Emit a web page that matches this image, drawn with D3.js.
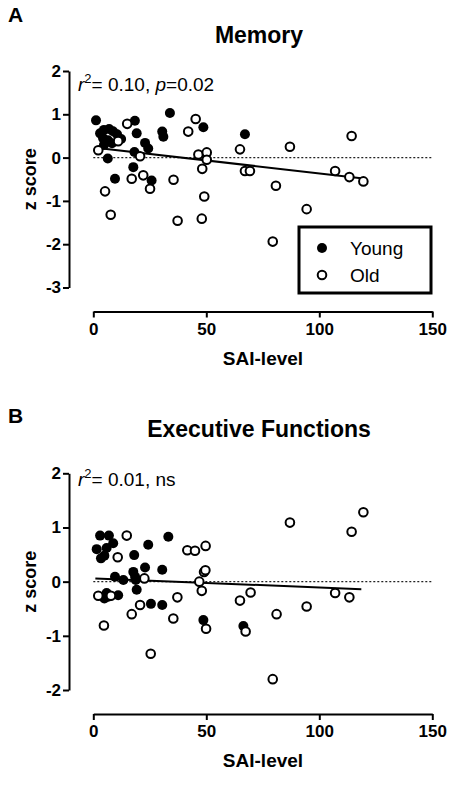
<!DOCTYPE html>
<html>
<head>
<meta charset="utf-8">
<script src="https://cdn.jsdelivr.net/npm/d3@7"></script>
<style>
  html, body { margin: 0; padding: 0; background: #fff; }
  svg { display: block; }
  text { font-family: "Liberation Sans", Arial, Helvetica, sans-serif; fill: #000; }
</style>
</head>
<body>
<svg id="chart" width="475" height="785"></svg>
<script>
// ---------- data ----------
const xTicks = [0, 50, 100, 150];
const memYTicks = [-3, -2, -1, 0, 1, 2];
const efYTicks = [-2, -1, 0, 1, 2];
const legendLabels = ["Young", "Old"];

// Panel A — Memory
const memYoungX = [1.2, 3, 4.7, 7, 8.7, 10.5, 4.3, 6.5, 8.3, 12.3, 4.7, 18.4, 19.2, 22.9, 24.3, 30.5, 31, 33.9, 18.2, 17.7, 6.4, 9.6, 25.8, 48.7, 67.1];
const memYoungY = [0.86, 0.56, 0.64, 0.66, 0.61, 0.54, 0.45, 0.40, 0.33, 0.43, 0.29, 0.85, 0.56, 0.34, 0.21, 0.60, 0.48, 1.03, 0.13, -0.22, -0.02, -0.49, -0.53, 0.70, 0.54];
const memOldX = [15, 2.2, 11, 20.7, 17, 22.1, 25.1, 5.2, 7.7, 35.5, 37.3, 45.3, 42, 64.9, 46.5, 50.2, 50.2, 48.2, 49.1, 48, 67.1, 69.3, 80.8, 114.3, 87, 107, 113.3, 119.5, 94.4, 79.4];
const memOldY = [0.78, 0.17, 0.38, 0.03, -0.49, -0.41, -0.72, -0.78, -1.32, -0.51, -1.46, 0.89, 0.60, 0.19, 0.07, 0.12, -0.05, -0.26, -0.90, -1.41, -0.31, -0.31, -0.65, 0.50, 0.25, -0.31, -0.45, -0.55, -1.19, -1.94];
const memFitX = [2, 119.5];
const memFitY = [0.22, -0.48];

// Panel B — Executive Functions
const efYoungX = [3, 6.9, 8.8, 1.5, 5.9, 3.4, 4.9, 18.1, 24.3, 33.2, 22.9, 30.5, 17.7, 18.5, 9.6, 13.3, 18.8, 19.2, 5.9, 6.6, 4.9, 11, 25.5, 30.5, 48.7, 66.4];
const efYoungY = [0.85, 0.85, 0.71, 0.60, 0.62, 0.43, 0.48, 0.49, 0.68, 0.83, 0.26, 0.22, 0.18, 0.09, 0.09, 0.03, 0.03, -0.15, -0.21, -0.28, -0.31, -0.25, -0.41, -0.43, -0.71, -0.82];
const efOldX = [14.8, 10.8, 22.6, 2.2, 7.8, 20.7, 17, 4.7, 25.4, 37.2, 35.4, 41.6, 45, 49.7, 49, 49.6, 46.9, 48, 49.9, 64.9, 69.6, 67.4, 87, 119.5, 114.3, 107, 113.3, 81.1, 94.4, 79.4];
const efOldY = [0.85, 0.45, 0.06, -0.26, -0.26, -0.43, -0.60, -0.81, -1.33, -0.29, -0.68, 0.58, 0.57, 0.66, 0.18, 0.21, 0.00, -0.17, -0.87, -0.35, -0.20, -0.92, 1.09, 1.28, 0.92, -0.21, -0.29, -0.60, -0.46, -1.80];
const efFitX = [0.9, 118.6];
const efFitY = [0.06, -0.14];

// ---------- drawing ----------
const svg = d3.select("#chart");
svg.append("rect").attr("width", 475).attr("height", 785).attr("fill", "#fff");

const FONT = '"Liberation Sans", Arial, Helvetica, sans-serif';

function zip(xs, ys) { return xs.map((x, i) => ({ x: x, y: ys[i] })); }

function drawPanel(cfg) {
  const g = svg.append("g");
  const x = d3.scaleLinear().domain([0, 150]).range([93.3, 432.3]);
  const y = d3.scaleLinear().domain(cfg.yDomain).range([cfg.yBottom, cfg.yTop]);

  // panel letter
  g.append("text").attr("x", 8).attr("y", cfg.letterY)
    .attr("font-size", 21).attr("font-weight", "bold").text(cfg.letter);
  // title
  g.append("text").attr("x", 259).attr("y", cfg.titleY).attr("text-anchor", "middle")
    .attr("font-size", 23).attr("font-weight", "bold").text(cfg.title);

  // y axis
  const yAxis = d3.axisLeft(y).tickValues(cfg.yTicks).tickSize(6).tickSizeOuter(0).tickPadding(2)
    .tickFormat(d3.format("d"));
  const ya = g.append("g").attr("transform", "translate(69,0)").call(yAxis);
  ya.select(".domain").attr("stroke", "#000").attr("stroke-width", 2);
  ya.selectAll(".tick line").attr("stroke", "#000").attr("stroke-width", 2);
  ya.selectAll(".tick text").attr("font-family", FONT).attr("font-size", 17)
    .attr("font-weight", "bold").attr("fill", "#000");
  ya.selectAll(".tick text").text(d => d < 0 ? "-" + Math.abs(d) : d);

  // x axis
  const xAxis = d3.axisBottom(x).tickValues(xTicks).tickSize(6).tickSizeOuter(0).tickPadding(5);
  const xa = g.append("g").attr("transform", `translate(0,${cfg.xAxisY})`).call(xAxis);
  xa.select(".domain").attr("stroke", "#000").attr("stroke-width", 2);
  xa.selectAll(".tick line").attr("stroke", "#000").attr("stroke-width", 2);
  xa.selectAll(".tick text").attr("font-family", FONT).attr("font-size", 17)
    .attr("font-weight", "bold").attr("fill", "#000");

  // axis titles
  g.append("text").attr("x", 263).attr("y", cfg.xAxisY + 53).attr("text-anchor", "middle")
    .attr("font-size", 19).attr("font-weight", "bold").text("SAI-level");
  g.append("text")
    .attr("transform", `translate(36,${(cfg.yTop + cfg.yBottom) / 2}) rotate(-90)`)
    .attr("text-anchor", "middle").attr("font-size", 18).attr("font-weight", "bold").text("z score");

  // zero dotted line
  g.append("line").attr("x1", x(0)).attr("x2", x(150)).attr("y1", y(0)).attr("y2", y(0))
    .attr("stroke", "#222").attr("stroke-width", 1.3).attr("stroke-dasharray", "2,2");

  // regression line
  const line = d3.line().x(d => x(d.x)).y(d => y(d.y));
  g.append("path").datum(zip(cfg.fitX, cfg.fitY)).attr("d", line)
    .attr("fill", "none").attr("stroke", "#000").attr("stroke-width", 2);

  // points
  g.selectAll("circle.young").data(zip(cfg.youngX, cfg.youngY)).enter().append("circle")
    .attr("class", "young").attr("cx", d => x(d.x)).attr("cy", d => y(d.y)).attr("r", 5)
    .attr("fill", "#000");
  g.selectAll("circle.old").data(zip(cfg.oldX, cfg.oldY)).enter().append("circle")
    .attr("class", "old").attr("cx", d => x(d.x)).attr("cy", d => y(d.y)).attr("r", 4.3)
    .attr("fill", "#fff").attr("stroke", "#000").attr("stroke-width", 2);

  // annotation
  const ann = g.append("text").attr("x", 78).attr("y", cfg.annY).attr("font-size", 19);
  ann.append("tspan").attr("font-style", "italic").text("r");
  ann.append("tspan").attr("font-size", 13).attr("dy", -8).text("2");
  ann.append("tspan").attr("dy", 8).text("= " + cfg.annR2);
  if (cfg.annP) {
    ann.append("tspan").text(", ");
    ann.append("tspan").attr("font-style", "italic").text("p");
    ann.append("tspan").text("=" + cfg.annP);
  } else {
    ann.append("tspan").text(", ns");
  }

  return { x: x, y: y, g: g };
}

const pA = drawPanel({
  letter: "A", letterY: 22, title: "Memory", titleY: 43,
  yDomain: [-3, 2], yTop: 71, yBottom: 287.5, yTicks: memYTicks, xAxisY: 311.5,
  youngX: memYoungX, youngY: memYoungY, oldX: memOldX, oldY: memOldY,
  fitX: memFitX, fitY: memFitY, annY: 91, annR2: "0.10", annP: "0.02"
});

drawPanel({
  letter: "B", letterY: 423, title: "Executive Functions", titleY: 437,
  yDomain: [-2, 2], yTop: 473.3, yBottom: 690, yTicks: efYTicks, xAxisY: 714,
  youngX: efYoungX, youngY: efYoungY, oldX: efOldX, oldY: efOldY,
  fitX: efFitX, fitY: efFitY, annY: 486, annR2: "0.01", annP: null
});

// legend (panel A)
const lg = svg.append("g");
lg.append("rect").attr("x", 299).attr("y", 227).attr("width", 132).attr("height", 66)
  .attr("fill", "#fff").attr("stroke", "#000").attr("stroke-width", 3);
legendLabels.forEach((lab, i) => {
  const cy = 248 + i * 27;
  if (i === 0) {
    lg.append("circle").attr("cx", 322).attr("cy", cy).attr("r", 5).attr("fill", "#000");
  } else {
    lg.append("circle").attr("cx", 322).attr("cy", cy).attr("r", 4.3).attr("fill", "#fff")
      .attr("stroke", "#000").attr("stroke-width", 2);
  }
  lg.append("text").attr("x", 350).attr("y", cy + 7).attr("font-size", 19).text(lab);
});
</script>
</body>
</html>
